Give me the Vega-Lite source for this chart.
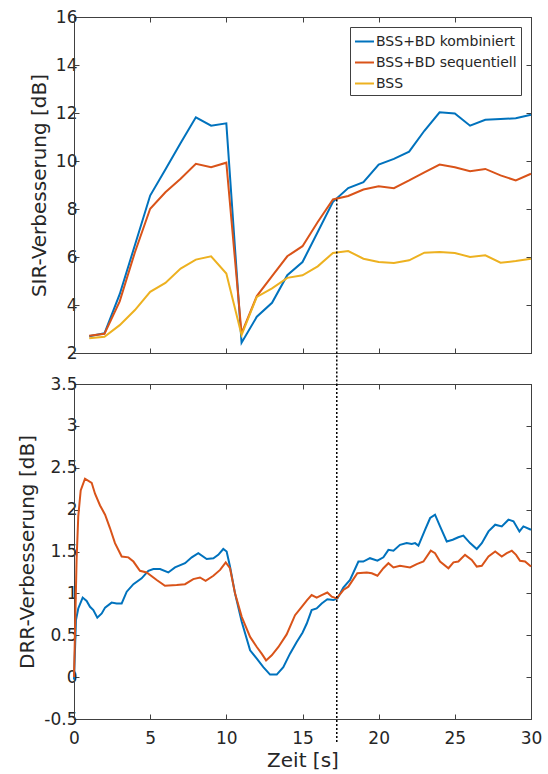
{
  "$schema": "https://vega.github.io/schema/vega-lite/v6.json",
  "padding": {"left": 17, "top": 7, "right": 4, "bottom": 5},
  "spacing": 31,
  "bounds": "flush",
  "resolve": {"scale": {"color": "independent"}, "legend": {"color": "independent"}},
  "datasets": {
    "sir": [
      {"t": 1, "v": 2.70, "s": "BSS+BD kombiniert"}, {"t": 2, "v": 2.82, "s": "BSS+BD kombiniert"}, {"t": 3, "v": 4.45, "s": "BSS+BD kombiniert"}, {"t": 4, "v": 6.5, "s": "BSS+BD kombiniert"}, {"t": 5, "v": 8.56, "s": "BSS+BD kombiniert"}, {"t": 6, "v": 9.65, "s": "BSS+BD kombiniert"}, {"t": 7, "v": 10.75, "s": "BSS+BD kombiniert"}, {"t": 8, "v": 11.82, "s": "BSS+BD kombiniert"}, {"t": 9, "v": 11.47, "s": "BSS+BD kombiniert"}, {"t": 10, "v": 11.57, "s": "BSS+BD kombiniert"},
      {"t": 11, "v": 2.43, "s": "BSS+BD kombiniert"}, {"t": 12, "v": 3.51, "s": "BSS+BD kombiniert"}, {"t": 13, "v": 4.09, "s": "BSS+BD kombiniert"}, {"t": 14, "v": 5.24, "s": "BSS+BD kombiniert"}, {"t": 15, "v": 5.79, "s": "BSS+BD kombiniert"}, {"t": 16, "v": 7.04, "s": "BSS+BD kombiniert"}, {"t": 17, "v": 8.3, "s": "BSS+BD kombiniert"}, {"t": 18, "v": 8.87, "s": "BSS+BD kombiniert"}, {"t": 19, "v": 9.12, "s": "BSS+BD kombiniert"}, {"t": 20, "v": 9.85, "s": "BSS+BD kombiniert"},
      {"t": 21, "v": 10.09, "s": "BSS+BD kombiniert"}, {"t": 22, "v": 10.39, "s": "BSS+BD kombiniert"}, {"t": 23, "v": 11.26, "s": "BSS+BD kombiniert"}, {"t": 24, "v": 12.03, "s": "BSS+BD kombiniert"}, {"t": 25, "v": 11.98, "s": "BSS+BD kombiniert"}, {"t": 26, "v": 11.47, "s": "BSS+BD kombiniert"}, {"t": 27, "v": 11.72, "s": "BSS+BD kombiniert"}, {"t": 28, "v": 11.75, "s": "BSS+BD kombiniert"}, {"t": 29, "v": 11.78, "s": "BSS+BD kombiniert"}, {"t": 30, "v": 11.93, "s": "BSS+BD kombiniert"},
      {"t": 1, "v": 2.72, "s": "BSS+BD sequentiell"}, {"t": 2, "v": 2.8, "s": "BSS+BD sequentiell"}, {"t": 3, "v": 4.15, "s": "BSS+BD sequentiell"}, {"t": 4, "v": 6.2, "s": "BSS+BD sequentiell"}, {"t": 5, "v": 8.01, "s": "BSS+BD sequentiell"}, {"t": 6, "v": 8.7, "s": "BSS+BD sequentiell"}, {"t": 7, "v": 9.26, "s": "BSS+BD sequentiell"}, {"t": 8, "v": 9.88, "s": "BSS+BD sequentiell"}, {"t": 9, "v": 9.74, "s": "BSS+BD sequentiell"}, {"t": 10, "v": 9.93, "s": "BSS+BD sequentiell"},
      {"t": 11, "v": 2.82, "s": "BSS+BD sequentiell"}, {"t": 12, "v": 4.37, "s": "BSS+BD sequentiell"}, {"t": 13, "v": 5.2, "s": "BSS+BD sequentiell"}, {"t": 14, "v": 6.03, "s": "BSS+BD sequentiell"}, {"t": 15, "v": 6.45, "s": "BSS+BD sequentiell"}, {"t": 16, "v": 7.46, "s": "BSS+BD sequentiell"}, {"t": 17, "v": 8.4, "s": "BSS+BD sequentiell"}, {"t": 18, "v": 8.54, "s": "BSS+BD sequentiell"}, {"t": 19, "v": 8.81, "s": "BSS+BD sequentiell"}, {"t": 20, "v": 8.95, "s": "BSS+BD sequentiell"},
      {"t": 21, "v": 8.87, "s": "BSS+BD sequentiell"}, {"t": 22, "v": 9.19, "s": "BSS+BD sequentiell"}, {"t": 23, "v": 9.53, "s": "BSS+BD sequentiell"}, {"t": 24, "v": 9.85, "s": "BSS+BD sequentiell"}, {"t": 25, "v": 9.74, "s": "BSS+BD sequentiell"}, {"t": 26, "v": 9.57, "s": "BSS+BD sequentiell"}, {"t": 27, "v": 9.67, "s": "BSS+BD sequentiell"}, {"t": 28, "v": 9.4, "s": "BSS+BD sequentiell"}, {"t": 29, "v": 9.19, "s": "BSS+BD sequentiell"}, {"t": 30, "v": 9.47, "s": "BSS+BD sequentiell"},
      {"t": 1, "v": 2.61, "s": "BSS"}, {"t": 2, "v": 2.68, "s": "BSS"}, {"t": 3, "v": 3.16, "s": "BSS"}, {"t": 4, "v": 3.79, "s": "BSS"}, {"t": 5, "v": 4.55, "s": "BSS"}, {"t": 6, "v": 4.92, "s": "BSS"}, {"t": 7, "v": 5.52, "s": "BSS"}, {"t": 8, "v": 5.89, "s": "BSS"}, {"t": 9, "v": 6.03, "s": "BSS"}, {"t": 10, "v": 5.31, "s": "BSS"},
      {"t": 11, "v": 2.75, "s": "BSS"}, {"t": 12, "v": 4.34, "s": "BSS"}, {"t": 13, "v": 4.69, "s": "BSS"}, {"t": 14, "v": 5.13, "s": "BSS"}, {"t": 15, "v": 5.24, "s": "BSS"}, {"t": 16, "v": 5.61, "s": "BSS"}, {"t": 17, "v": 6.17, "s": "BSS"}, {"t": 18, "v": 6.25, "s": "BSS"}, {"t": 19, "v": 5.93, "s": "BSS"}, {"t": 20, "v": 5.79, "s": "BSS"},
      {"t": 21, "v": 5.75, "s": "BSS"}, {"t": 22, "v": 5.86, "s": "BSS"}, {"t": 23, "v": 6.18, "s": "BSS"}, {"t": 24, "v": 6.21, "s": "BSS"}, {"t": 25, "v": 6.17, "s": "BSS"}, {"t": 26, "v": 6.0, "s": "BSS"}, {"t": 27, "v": 6.07, "s": "BSS"}, {"t": 28, "v": 5.76, "s": "BSS"}, {"t": 29, "v": 5.83, "s": "BSS"}, {"t": 30, "v": 5.93, "s": "BSS"}
    ],
    "drr": [
      {"t": 0, "v": -0.03, "s": "BSS+BD kombiniert"}, {"t": 0.13, "v": 0.68, "s": "BSS+BD kombiniert"}, {"t": 0.28, "v": 0.82, "s": "BSS+BD kombiniert"}, {"t": 0.57, "v": 0.95, "s": "BSS+BD kombiniert"}, {"t": 0.83, "v": 0.91, "s": "BSS+BD kombiniert"}, {"t": 1.05, "v": 0.84, "s": "BSS+BD kombiniert"}, {"t": 1.27, "v": 0.80, "s": "BSS+BD kombiniert"}, {"t": 1.53, "v": 0.71, "s": "BSS+BD kombiniert"}, {"t": 1.82, "v": 0.76, "s": "BSS+BD kombiniert"}, {"t": 2.04, "v": 0.83, "s": "BSS+BD kombiniert"},
      {"t": 2.47, "v": 0.89, "s": "BSS+BD kombiniert"}, {"t": 2.8, "v": 0.88, "s": "BSS+BD kombiniert"}, {"t": 3.13, "v": 0.88, "s": "BSS+BD kombiniert"}, {"t": 3.46, "v": 1.02, "s": "BSS+BD kombiniert"}, {"t": 3.9, "v": 1.11, "s": "BSS+BD kombiniert"}, {"t": 4.44, "v": 1.18, "s": "BSS+BD kombiniert"}, {"t": 4.88, "v": 1.27, "s": "BSS+BD kombiniert"}, {"t": 5.21, "v": 1.29, "s": "BSS+BD kombiniert"}, {"t": 5.65, "v": 1.29, "s": "BSS+BD kombiniert"}, {"t": 6.19, "v": 1.25, "s": "BSS+BD kombiniert"},
      {"t": 6.63, "v": 1.31, "s": "BSS+BD kombiniert"}, {"t": 7.29, "v": 1.36, "s": "BSS+BD kombiniert"}, {"t": 7.73, "v": 1.43, "s": "BSS+BD kombiniert"}, {"t": 8.16, "v": 1.48, "s": "BSS+BD kombiniert"}, {"t": 8.71, "v": 1.41, "s": "BSS+BD kombiniert"}, {"t": 9.15, "v": 1.42, "s": "BSS+BD kombiniert"}, {"t": 9.47, "v": 1.46, "s": "BSS+BD kombiniert"}, {"t": 9.8, "v": 1.53, "s": "BSS+BD kombiniert"}, {"t": 10.02, "v": 1.50, "s": "BSS+BD kombiniert"}, {"t": 10.24, "v": 1.32, "s": "BSS+BD kombiniert"},
      {"t": 10.57, "v": 1.0, "s": "BSS+BD kombiniert"}, {"t": 11.01, "v": 0.66, "s": "BSS+BD kombiniert"}, {"t": 11.56, "v": 0.32, "s": "BSS+BD kombiniert"}, {"t": 12.0, "v": 0.22, "s": "BSS+BD kombiniert"}, {"t": 12.43, "v": 0.12, "s": "BSS+BD kombiniert"}, {"t": 12.87, "v": 0.03, "s": "BSS+BD kombiniert"}, {"t": 13.31, "v": 0.03, "s": "BSS+BD kombiniert"}, {"t": 13.74, "v": 0.12, "s": "BSS+BD kombiniert"}, {"t": 14.18, "v": 0.28, "s": "BSS+BD kombiniert"}, {"t": 14.62, "v": 0.42, "s": "BSS+BD kombiniert"},
      {"t": 15.0, "v": 0.53, "s": "BSS+BD kombiniert"}, {"t": 15.28, "v": 0.64, "s": "BSS+BD kombiniert"}, {"t": 15.6, "v": 0.80, "s": "BSS+BD kombiniert"}, {"t": 15.93, "v": 0.82, "s": "BSS+BD kombiniert"}, {"t": 16.26, "v": 0.88, "s": "BSS+BD kombiniert"}, {"t": 16.63, "v": 0.93, "s": "BSS+BD kombiniert"}, {"t": 17.03, "v": 0.92, "s": "BSS+BD kombiniert"}, {"t": 17.29, "v": 0.94, "s": "BSS+BD kombiniert"}, {"t": 17.68, "v": 1.07, "s": "BSS+BD kombiniert"}, {"t": 18.12, "v": 1.16, "s": "BSS+BD kombiniert"},
      {"t": 18.67, "v": 1.38, "s": "BSS+BD kombiniert"}, {"t": 18.99, "v": 1.38, "s": "BSS+BD kombiniert"}, {"t": 19.43, "v": 1.42, "s": "BSS+BD kombiniert"}, {"t": 19.92, "v": 1.39, "s": "BSS+BD kombiniert"}, {"t": 20.31, "v": 1.43, "s": "BSS+BD kombiniert"}, {"t": 20.64, "v": 1.52, "s": "BSS+BD kombiniert"}, {"t": 20.97, "v": 1.51, "s": "BSS+BD kombiniert"}, {"t": 21.4, "v": 1.58, "s": "BSS+BD kombiniert"}, {"t": 21.84, "v": 1.60, "s": "BSS+BD kombiniert"}, {"t": 22.17, "v": 1.59, "s": "BSS+BD kombiniert"},
      {"t": 22.39, "v": 1.60, "s": "BSS+BD kombiniert"}, {"t": 22.61, "v": 1.57, "s": "BSS+BD kombiniert"}, {"t": 23.05, "v": 1.76, "s": "BSS+BD kombiniert"}, {"t": 23.38, "v": 1.90, "s": "BSS+BD kombiniert"}, {"t": 23.7, "v": 1.94, "s": "BSS+BD kombiniert"}, {"t": 24.03, "v": 1.80, "s": "BSS+BD kombiniert"}, {"t": 24.47, "v": 1.62, "s": "BSS+BD kombiniert"}, {"t": 24.86, "v": 1.64, "s": "BSS+BD kombiniert"}, {"t": 25.23, "v": 1.67, "s": "BSS+BD kombiniert"}, {"t": 25.56, "v": 1.69, "s": "BSS+BD kombiniert"},
      {"t": 26.0, "v": 1.60, "s": "BSS+BD kombiniert"}, {"t": 26.44, "v": 1.53, "s": "BSS+BD kombiniert"}, {"t": 26.77, "v": 1.60, "s": "BSS+BD kombiniert"}, {"t": 27.21, "v": 1.74, "s": "BSS+BD kombiniert"}, {"t": 27.65, "v": 1.82, "s": "BSS+BD kombiniert"}, {"t": 28.08, "v": 1.80, "s": "BSS+BD kombiniert"}, {"t": 28.52, "v": 1.88, "s": "BSS+BD kombiniert"}, {"t": 28.85, "v": 1.86, "s": "BSS+BD kombiniert"}, {"t": 29.24, "v": 1.74, "s": "BSS+BD kombiniert"}, {"t": 29.5, "v": 1.80, "s": "BSS+BD kombiniert"}, {"t": 30, "v": 1.76, "s": "BSS+BD kombiniert"},
      {"t": 0, "v": 0.0, "s": "BSS+BD sequentiell"}, {"t": 0.17, "v": 1.40, "s": "BSS+BD sequentiell"}, {"t": 0.28, "v": 1.92, "s": "BSS+BD sequentiell"}, {"t": 0.44, "v": 2.23, "s": "BSS+BD sequentiell"}, {"t": 0.72, "v": 2.37, "s": "BSS+BD sequentiell"}, {"t": 1.16, "v": 2.32, "s": "BSS+BD sequentiell"}, {"t": 1.38, "v": 2.19, "s": "BSS+BD sequentiell"}, {"t": 1.71, "v": 2.05, "s": "BSS+BD sequentiell"}, {"t": 2.04, "v": 1.94, "s": "BSS+BD sequentiell"}, {"t": 2.36, "v": 1.78, "s": "BSS+BD sequentiell"},
      {"t": 2.69, "v": 1.60, "s": "BSS+BD sequentiell"}, {"t": 3.13, "v": 1.44, "s": "BSS+BD sequentiell"}, {"t": 3.57, "v": 1.43, "s": "BSS+BD sequentiell"}, {"t": 3.9, "v": 1.38, "s": "BSS+BD sequentiell"}, {"t": 4.33, "v": 1.27, "s": "BSS+BD sequentiell"}, {"t": 4.77, "v": 1.25, "s": "BSS+BD sequentiell"}, {"t": 5.43, "v": 1.16, "s": "BSS+BD sequentiell"}, {"t": 5.97, "v": 1.09, "s": "BSS+BD sequentiell"}, {"t": 6.74, "v": 1.10, "s": "BSS+BD sequentiell"}, {"t": 7.29, "v": 1.11, "s": "BSS+BD sequentiell"},
      {"t": 7.83, "v": 1.17, "s": "BSS+BD sequentiell"}, {"t": 8.27, "v": 1.19, "s": "BSS+BD sequentiell"}, {"t": 8.64, "v": 1.15, "s": "BSS+BD sequentiell"}, {"t": 9.15, "v": 1.21, "s": "BSS+BD sequentiell"}, {"t": 9.59, "v": 1.28, "s": "BSS+BD sequentiell"}, {"t": 9.96, "v": 1.37, "s": "BSS+BD sequentiell"}, {"t": 10.24, "v": 1.30, "s": "BSS+BD sequentiell"}, {"t": 10.57, "v": 1.0, "s": "BSS+BD sequentiell"}, {"t": 11.01, "v": 0.72, "s": "BSS+BD sequentiell"}, {"t": 11.56, "v": 0.48, "s": "BSS+BD sequentiell"},
      {"t": 12.0, "v": 0.36, "s": "BSS+BD sequentiell"}, {"t": 12.32, "v": 0.28, "s": "BSS+BD sequentiell"}, {"t": 12.61, "v": 0.20, "s": "BSS+BD sequentiell"}, {"t": 12.98, "v": 0.26, "s": "BSS+BD sequentiell"}, {"t": 13.42, "v": 0.36, "s": "BSS+BD sequentiell"}, {"t": 13.96, "v": 0.51, "s": "BSS+BD sequentiell"}, {"t": 14.51, "v": 0.74, "s": "BSS+BD sequentiell"}, {"t": 14.95, "v": 0.84, "s": "BSS+BD sequentiell"}, {"t": 15.3, "v": 0.92, "s": "BSS+BD sequentiell"}, {"t": 15.6, "v": 0.98, "s": "BSS+BD sequentiell"},
      {"t": 15.93, "v": 0.95, "s": "BSS+BD sequentiell"}, {"t": 16.26, "v": 0.98, "s": "BSS+BD sequentiell"}, {"t": 16.63, "v": 1.01, "s": "BSS+BD sequentiell"}, {"t": 16.92, "v": 0.96, "s": "BSS+BD sequentiell"}, {"t": 17.25, "v": 0.94, "s": "BSS+BD sequentiell"}, {"t": 17.68, "v": 1.04, "s": "BSS+BD sequentiell"}, {"t": 18.01, "v": 1.08, "s": "BSS+BD sequentiell"}, {"t": 18.6, "v": 1.24, "s": "BSS+BD sequentiell"}, {"t": 19.22, "v": 1.25, "s": "BSS+BD sequentiell"}, {"t": 19.55, "v": 1.24, "s": "BSS+BD sequentiell"},
      {"t": 19.92, "v": 1.21, "s": "BSS+BD sequentiell"}, {"t": 20.31, "v": 1.30, "s": "BSS+BD sequentiell"}, {"t": 20.64, "v": 1.36, "s": "BSS+BD sequentiell"}, {"t": 20.97, "v": 1.31, "s": "BSS+BD sequentiell"}, {"t": 21.4, "v": 1.33, "s": "BSS+BD sequentiell"}, {"t": 22.06, "v": 1.31, "s": "BSS+BD sequentiell"}, {"t": 22.5, "v": 1.35, "s": "BSS+BD sequentiell"}, {"t": 22.94, "v": 1.38, "s": "BSS+BD sequentiell"}, {"t": 23.42, "v": 1.51, "s": "BSS+BD sequentiell"}, {"t": 23.7, "v": 1.48, "s": "BSS+BD sequentiell"},
      {"t": 24.03, "v": 1.38, "s": "BSS+BD sequentiell"}, {"t": 24.58, "v": 1.30, "s": "BSS+BD sequentiell"}, {"t": 24.91, "v": 1.37, "s": "BSS+BD sequentiell"}, {"t": 25.23, "v": 1.38, "s": "BSS+BD sequentiell"}, {"t": 25.67, "v": 1.46, "s": "BSS+BD sequentiell"}, {"t": 26.11, "v": 1.40, "s": "BSS+BD sequentiell"}, {"t": 26.44, "v": 1.32, "s": "BSS+BD sequentiell"}, {"t": 26.77, "v": 1.33, "s": "BSS+BD sequentiell"}, {"t": 27.21, "v": 1.44, "s": "BSS+BD sequentiell"}, {"t": 27.65, "v": 1.50, "s": "BSS+BD sequentiell"},
      {"t": 28.08, "v": 1.44, "s": "BSS+BD sequentiell"}, {"t": 28.41, "v": 1.48, "s": "BSS+BD sequentiell"}, {"t": 28.74, "v": 1.51, "s": "BSS+BD sequentiell"}, {"t": 29.02, "v": 1.46, "s": "BSS+BD sequentiell"}, {"t": 29.28, "v": 1.39, "s": "BSS+BD sequentiell"}, {"t": 29.61, "v": 1.38, "s": "BSS+BD sequentiell"}, {"t": 30, "v": 1.32, "s": "BSS+BD sequentiell"}
    ],
    "marker_top": [{"t": 17.25, "v": 8.4, "v2": 0.71}],
    "marker_bottom": [{"t": 17.25, "v": 3.5, "v2": -0.78}]
  },
  "vconcat": [
    {
      "width": 457,
      "height": 336,
      "resolve": {"axis": {"x": "independent", "y": "independent"}},
      "layer": [
        {
          "data": {"name": "sir"},
          "mark": {"type": "line", "strokeWidth": 2},
          "encoding": {
            "x": {"field": "t", "type": "quantitative", "scale": {"domain": [0, 30], "nice": false},
                  "axis": {"orient": "bottom", "values": [0, 5, 10, 15, 20, 25, 30], "labels": false, "title": null}},
            "y": {"field": "v", "type": "quantitative", "scale": {"domain": [2, 16], "nice": false, "zero": false},
                  "axis": {"orient": "left", "values": [2, 4, 6, 8, 10, 12, 14, 16], "title": "SIR-Verbesserung [dB]"}},
            "color": {"field": "s", "type": "nominal",
                      "scale": {"domain": ["BSS+BD kombiniert", "BSS+BD sequentiell", "BSS"], "range": ["#0072BD", "#D95319", "#EDB120"]},
                      "legend": {"orient": "top-right", "offset": 10, "title": null, "symbolType": "stroke", "symbolStrokeWidth": 2, "symbolSize": 360,
                                 "labelFontSize": 14, "labelFont": "DejaVu Sans", "labelColor": "#262626", "fillColor": "white", "strokeColor": "#404040",
                                 "padding": 4, "rowPadding": 3, "labelOffset": 1}}
          }
        },
        {
          "data": {"name": "marker_top"},
          "mark": {"type": "rule", "color": "black", "strokeWidth": 1.5, "strokeDash": [2, 2], "clip": false},
          "encoding": {
            "x": {"field": "t", "type": "quantitative", "axis": {"orient": "top", "values": [0, 5, 10, 15, 20, 25, 30], "labels": false, "title": null}},
            "y": {"field": "v", "type": "quantitative", "axis": {"orient": "right", "values": [2, 4, 6, 8, 10, 12, 14, 16], "labels": false, "title": null}},
            "y2": {"field": "v2"}
          }
        }
      ]
    },
    {
      "width": 457,
      "height": 335,
      "resolve": {"axis": {"x": "independent", "y": "independent"}},
      "layer": [
        {
          "data": {"name": "drr"},
          "mark": {"type": "line", "strokeWidth": 2},
          "encoding": {
            "x": {"field": "t", "type": "quantitative", "scale": {"domain": [0, 30], "nice": false},
                  "axis": {"orient": "bottom", "values": [0, 5, 10, 15, 20, 25, 30], "title": "Zeit [s]", "labelPadding": 16, "titlePadding": 4, "labelFlush": false}},
            "y": {"field": "v", "type": "quantitative", "scale": {"domain": [-0.5, 3.5], "nice": false, "zero": false},
                  "axis": {"orient": "left", "values": [-0.5, 0, 0.5, 1, 1.5, 2, 2.5, 3, 3.5], "labelExpr": "'' + datum.value", "title": "DRR-Verbesserung [dB]"}},
            "color": {"field": "s", "type": "nominal",
                      "scale": {"domain": ["BSS+BD kombiniert", "BSS+BD sequentiell"], "range": ["#0072BD", "#D95319"]},
                      "legend": null}
          }
        },
        {
          "data": {"name": "marker_bottom"},
          "mark": {"type": "rule", "color": "black", "strokeWidth": 1.5, "strokeDash": [2, 2], "clip": false},
          "encoding": {
            "x": {"field": "t", "type": "quantitative", "axis": {"orient": "top", "values": [0, 5, 10, 15, 20, 25, 30], "labels": false, "title": null}},
            "y": {"field": "v", "type": "quantitative", "axis": {"orient": "right", "values": [-0.5, 0, 0.5, 1, 1.5, 2, 2.5, 3, 3.5], "labels": false, "title": null}},
            "y2": {"field": "v2"}
          }
        }
      ]
    }
  ],
  "config": {
    "font": "DejaVu Sans",
    "view": {"stroke": "#404040"},
    "axis": {
      "grid": false,
      "domainColor": "#404040",
      "tickColor": "#404040",
      "labelColor": "#262626",
      "titleColor": "#262626",
      "labelFont": "DejaVu Sans",
      "titleFont": "DejaVu Sans",
      "labelFontSize": 17,
      "titleFontSize": 20,
      "titleFontWeight": "normal",
      "tickSize": -5,
      "labelPadding": 2,
      "titlePadding": 6
    }
  }
}
